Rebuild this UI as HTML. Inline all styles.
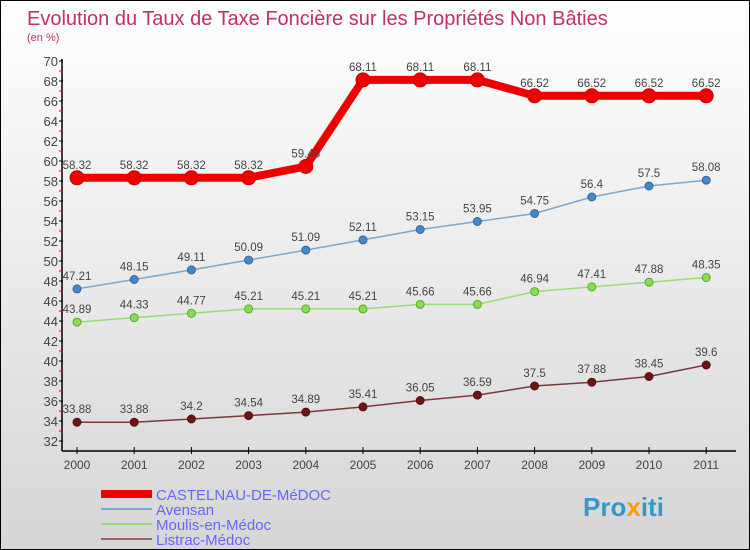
<!DOCTYPE html>
<html><head><meta charset="utf-8"><style>
body{margin:0}
#c{width:748px;height:548px;border:1px solid #000;position:relative;background:linear-gradient(#fff,#d6d6d6);font-family:"Liberation Sans",sans-serif;overflow:hidden}
</style></head><body>
<div id="c">
<svg width="748" height="548" id="s">
<text x="26" y="24" font-size="20" fill="#c0306a">Evolution du Taux de Taxe Foncière sur les Propriétés Non Bâties</text>
<text x="26" y="40" font-size="11" fill="#c0306a">(en %)</text>
<g id="ax"></g><g id="series"></g>
<g>
<rect x="100" y="489" width="51" height="8" fill="#e00"/>
<text x="155" y="499" font-size="15" fill="#6666ff">CASTELNAU-DE-MéDOC</text>
<line x1="100" y1="508" x2="151" y2="508" stroke="#7aa8cc" stroke-width="2"/>
<text x="155" y="514" font-size="15" fill="#6666ff">Avensan</text>
<line x1="100" y1="523" x2="151" y2="523" stroke="#99dd77" stroke-width="2"/>
<text x="155" y="529" font-size="15" fill="#6666ff">Moulis-en-Médoc</text>
<line x1="100" y1="538" x2="151" y2="538" stroke="#996666" stroke-width="2"/>
<text x="155" y="544" font-size="15" fill="#6666ff">Listrac-Médoc</text>
</g>
<text x="582" y="515" font-size="26" font-weight="bold" fill="#3399cc">Pro<tspan fill="#ff9900">x</tspan>iti</text>
</svg>
</div>
<script>
const years=["2000","2001","2002","2003","2004","2005","2006","2007","2008","2009","2010","2011"];
const castelnau=[58.32,58.32,58.32,58.32,59.45,68.11,68.11,68.11,66.52,66.52,66.52,66.52];
const avensan=[47.21,48.15,49.11,50.09,51.09,52.11,53.15,53.95,54.75,56.4,57.5,58.08];
const moulis=[43.89,44.33,44.77,45.21,45.21,45.21,45.66,45.66,46.94,47.41,47.88,48.35];
const listrac=[33.88,33.88,34.2,34.54,34.89,35.41,36.05,36.59,37.5,37.88,38.45,39.6];
const yTicks=[32,34,36,38,40,42,44,46,48,50,52,54,56,58,60,62,64,66,68,70];
const NS="http://www.w3.org/2000/svg";
const X=i=>76+i*57.2, Y=v=>440-(v-32)*10;
function mk(t,a,p){const e=document.createElementNS(NS,t);for(const k in a)e.setAttribute(k,a[k]);p.appendChild(e);return e;}
const ax=document.getElementById('ax');
let l=mk('line',{x1:61,y1:58,x2:61,y2:450,stroke:'#000','stroke-width':1.5},ax);


l=mk('line',{x1:61,y1:450,x2:735,y2:450,stroke:'#000','stroke-width':1.5},ax);


const yMax=yTicks[yTicks.length-1];
yTicks.forEach(v=>{
 mk('line',{x1:58,y1:Y(v),x2:62,y2:Y(v),stroke:'#000'},ax);
 if(v<yMax) mk('line',{x1:58,y1:Y(v+1),x2:62,y2:Y(v+1),stroke:'#e00'},ax);
 const t=mk('text',{x:57,y:Y(v)+5,'font-size':13,fill:'#444','text-anchor':'end'},ax);t.textContent=v;
 
 
});
years.forEach((y,i)=>{
 mk('line',{x1:X(i),y1:446,x2:X(i),y2:453,stroke:'#000'},ax);
 const t=mk('text',{x:X(i),y:468,'font-size':12,fill:'#444','text-anchor':'middle'},ax);t.textContent=y;
 
 
});
const sg=document.getElementById('series');
function series(d,name,col,w,r,dot,stroke){
 const g=mk('g',{},sg);
 
 
 mk('polyline',{points:d.map((v,i)=>X(i)+','+Y(v)).join(' '),fill:'none',stroke:col,'stroke-width':w,'stroke-linejoin':'round'},g);
 d.forEach((v,i)=>{
  const c=mk('circle',{cx:X(i),cy:Y(v),r:r,fill:dot,stroke:stroke,'stroke-width':1},g);
  
  
  const t=mk('text',{x:X(i),y:Y(v)-9,'font-size':11.5,fill:'#444','text-anchor':'middle'},g);t.textContent=v;
  
  
 });
}
series(listrac,'series-listrac','#7a3a3a',1.5,4,'#6a1515','#5a1010');
series(moulis,'series-moulis','#99dd77',1.5,4,'#88dd55','#55aa33');
series(avensan,'series-avensan','#7aa8cc',1.5,4,'#4488cc','#336699');
series(castelnau,'series-castelnau','#ee0000',8,7,'#ee0000','#cc0000');
</script>
</body></html>
